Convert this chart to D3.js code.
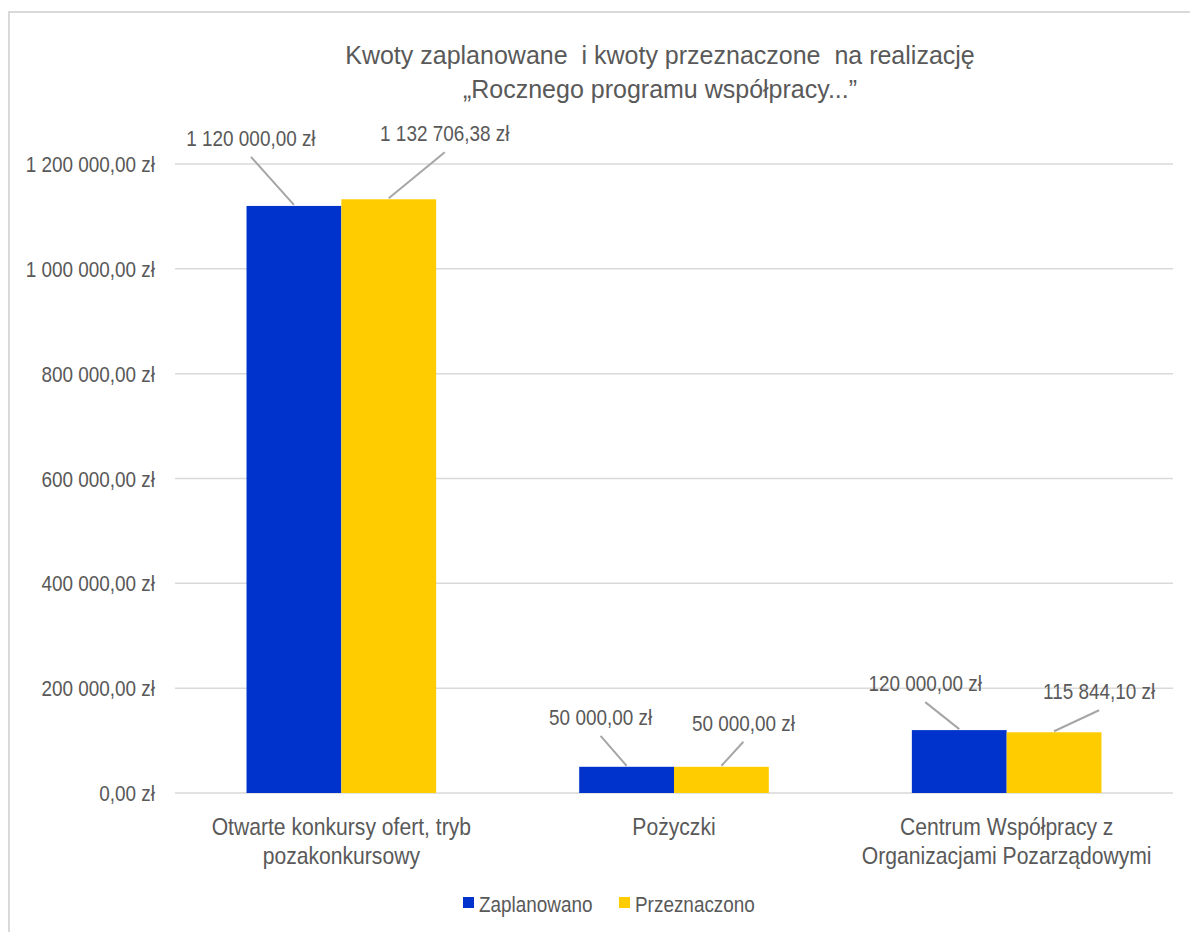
<!DOCTYPE html>
<html lang="pl">
<head>
<meta charset="UTF-8">
<title>Kwoty zaplanowane i kwoty przeznaczone</title>
<script src="https://cdn.jsdelivr.net/npm/d3@7"></script>
<style>
    body { margin: 0; background: #fff; }
    svg { display: block; font-family: "Liberation Sans", Arial, sans-serif; }
    .grid line { stroke: #d9d9d9; stroke-width: 1.5px; }
    .txt { fill: #595959; }
</style>
</head>
<body>
<svg width="1190" height="932"></svg>
<script>
    // data
    const categories = [
        ["Otwarte konkursy ofert, tryb", "pozakonkursowy"],
        ["Pożyczki"],
        ["Centrum Współpracy z", "Organizacjami Pozarządowymi"]
    ];
    const seriesNames = ["Zaplanowano", "Przeznaczono"];
    const planned = [1120000.00, 50000.00, 120000.00];
    const spent = [1132706.38, 50000.00, 115844.10];
    const yTicks = [0, 200000, 400000, 600000, 800000, 1000000, 1200000];
    const colors = ["#0033cc", "#ffcc00"];

    // where each data label sits relative to the top centre of its bar
    const labelOffsets = [
        [[-43, -60], [56, -58]],
        [[-26, -42], [22, -36]],
        [[-34, -39], [45, -33]]
    ];

    const pl = d3.formatLocale({ decimal: ",", thousands: "\u00a0", grouping: [3], currency: ["", " zł"] });
    const fmt = v => pl.format(",.2f")(v) + " zł";

    // no Arial Narrow here, so squeeze Liberation Sans horizontally
    function narrowText(parent, x, y, str, size, sx, anchor) {
        return parent.append("text")
            .attr("class", "txt")
            .attr("transform", `translate(${x},${y}) scale(${sx},1)`)
            .attr("text-anchor", anchor || "middle")
            .attr("font-size", size)
            .text(str);
    }

    const svg = d3.select("svg");
    const plotLeft = 175, plotRight = 1173, plotTop = 164, plotBottom = 793;

    // frame
    svg.append("path")
        .attr("d", "M9,932 V12 H1190")
        .attr("fill", "none")
        .attr("stroke", "#d9d9d9")
        .attr("stroke-width", 2);

    const x0 = d3.scaleBand().domain(d3.range(categories.length))
        .range([plotLeft, plotRight]).paddingInner(0.43).paddingOuter(0.215);
    const x1 = d3.scaleBand().domain(seriesNames).range([0, x0.bandwidth()]);
    const y = d3.scaleLinear().domain([0, 1200000]).range([plotBottom, plotTop]);

    // gridlines + y labels
    const yAxis = svg.append("g").attr("class", "grid");
    yAxis.selectAll("line").data(yTicks).enter().append("line")
        .attr("x1", plotLeft).attr("x2", plotRight)
        .attr("y1", d => y(d)).attr("y2", d => y(d));
    yTicks.forEach(t => {
        narrowText(yAxis, 155, y(t) + 8, fmt(t), 22, 0.86, "end");
    });

    // bars
    const rows = categories.map((c, i) => ({ i, vals: [planned[i], spent[i]] }));
    const groups = svg.selectAll("g.cat").data(rows).enter().append("g")
        .attr("class", "cat")
        .attr("transform", d => `translate(${x0(d.i)},0)`);

    groups.selectAll("rect").data(d => d.vals.map((v, s) => ({ v, s, i: d.i }))).enter().append("rect")
        .attr("x", d => x1(seriesNames[d.s]))
        .attr("y", d => y(d.v))
        .attr("width", x1.bandwidth())
        .attr("height", d => plotBottom - y(d.v))
        .attr("fill", d => colors[d.s]);

    // data labels with leader lines
    const lab = groups.selectAll("g.lab").data(d => d.vals.map((v, s) => ({ v, s, i: d.i }))).enter().append("g")
        .attr("class", "lab")
        .attr("transform", d => `translate(${x1(seriesNames[d.s]) + x1.bandwidth() / 2},${y(d.v)})`);

    lab.append("line")
        .attr("x1", 0).attr("y1", -1)
        .attr("x2", d => labelOffsets[d.i][d.s][0])
        .attr("y2", d => labelOffsets[d.i][d.s][1] + 11)
        .attr("stroke", "#a6a6a6")
        .attr("stroke-width", 2);

    lab.each(function (d) {
        const off = labelOffsets[d.i][d.s];
        narrowText(d3.select(this), off[0], off[1], fmt(d.v), 22, 0.86);
    });

    // category labels
    categories.forEach((lines, i) => {
        const cx = x0(i) + x0.bandwidth() / 2;
        lines.forEach((ln, k) => narrowText(svg, cx, 835 + k * 29, ln, 24, 0.88));
    });

    // title
    const title = svg.append("text")
        .attr("class", "txt")
        .attr("x", 660).attr("y", 64)
        .attr("text-anchor", "middle")
        .attr("font-size", 25)
        .style("white-space", "pre");
    title.append("tspan").attr("x", 660).text("Kwoty zaplanowane  i kwoty przeznaczone  na realizację");
    title.append("tspan").attr("x", 660).attr("dy", 34).text("„Rocznego programu współpracy...”");

    // legend
    const legend = svg.append("g").attr("transform", "translate(463,912)");
    const legX = [0, 156];
    seriesNames.forEach((name, s) => {
        legend.append("rect")
            .attr("x", legX[s]).attr("y", -15)
            .attr("width", 11).attr("height", 11)
            .attr("fill", colors[s]);
        narrowText(legend, legX[s] + 16, 0, name, 21.5, 0.88, "start");
    });
</script>
</body>
</html>
